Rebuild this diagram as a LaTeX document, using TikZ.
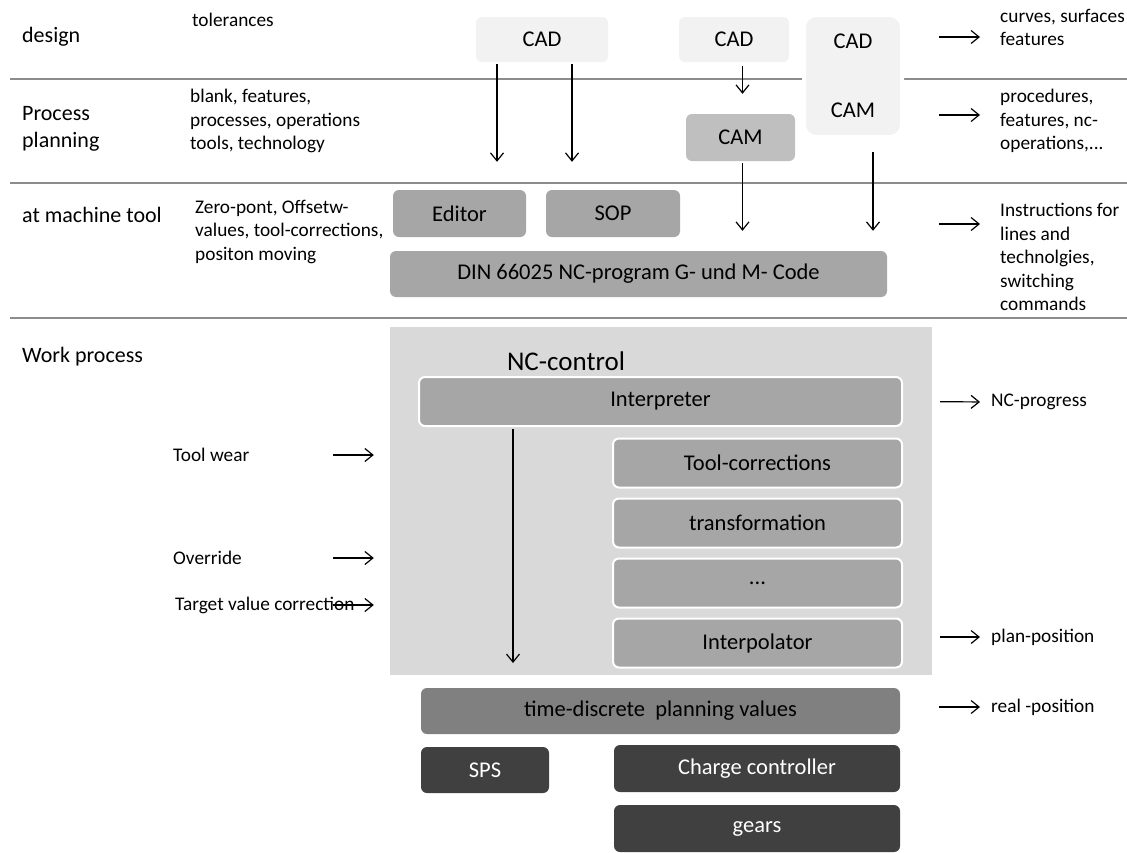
\documentclass[tikz,border=0pt]{standalone}
\usepackage{fontspec}
\setmainfont{Carlito}
\usepackage{xcolor}
\usepackage{tikz}
\usetikzlibrary{arrows.meta,positioning,calc}
\definecolor{cadfill}{HTML}{F2F2F2}
\definecolor{camfill}{HTML}{BFBFBF}
\definecolor{boxfill}{HTML}{A6A6A6}
\definecolor{ncfill}{HTML}{D9D9D9}
\definecolor{tdfill}{HTML}{808080}
\definecolor{darkfill}{HTML}{404040}
\definecolor{rulegray}{HTML}{8C8C8C}
\newcommand{\txtfont}{\fontsize{19.3pt}{23.5pt}\selectfont}
\newcommand{\boxfont}{\fontsize{22.5pt}{26pt}\selectfont}
\newcommand{\secfont}{\fontsize{22pt}{27pt}\selectfont}

\begin{document}
\begin{tikzpicture}[x=1pt, y=-1pt,
  box/.style={rectangle, rounded corners=6pt, align=center, font=\boxfont, inner sep=0pt},
  ncbox/.style={box, fill=boxfill, draw=white, line width=2pt},
  dark/.style={box, fill=darkfill, text=white},
  sec/.style={anchor=west, align=left, font=\secfont, inner sep=0pt},
  lbl/.style={anchor=west, align=left, font=\txtfont, inner sep=0pt},
  arr/.style={-{Straight Barb[length=8pt,width=13pt]}, line width=1.2pt},
  rule/.style={draw=rulegray, line width=1.8pt}
]
\useasboundingbox (0,0) rectangle (1127,852);
\fill[white] (0,0) rectangle (1127,852);

% Rows
\draw[rule] (10,79) -- (1127,79);
\draw[rule] (10,183) -- (1127,183);
\draw[rule] (10,318) -- (1127,318);

\node[sec] (design) at (22,37) {design};
\node[sec] (planning) at (22,129) {Process\\planning};
\node[sec] (machine) at (22,215) {at machine tool};
\node[sec] (work) at (22,357) {Work process};

\node[lbl] (tol) at (192,20) {tolerances};
\node[lbl] (blank) at (190,121) {blank, features,\\processes, operations\\tools, technology};
\node[lbl] (zero) at (195,231.5) {Zero-pont, Offsetw-\\values, tool-corrections,\\positon moving};

% Top: CAD / CAM
\node[box, fill=cadfill, minimum width=132pt, minimum height=45pt] (cadA) at (542,39.5) {CAD};
\node[box, fill=cadfill, minimum width=110pt, minimum height=45pt] (cadB) at (734,39.5) {CAD};
\node[box, fill=cadfill, draw=white, line width=4pt, rounded corners=12pt, minimum width=98pt, minimum height=122pt] (cadcam) at (853,76) {CAD\\[43pt]CAM};
\node[box, fill=camfill, minimum width=109pt, minimum height=47pt] (cam) at (740.5,137.5) {CAM};

% Machine tool
\node[box, fill=boxfill, minimum width=133pt, minimum height=47pt] (editor) at (459.5,213.5) {Editor};
\node[box, fill=boxfill, minimum width=134pt, minimum height=47pt] (sop) at (613,213.5) {SOP};
\node[box, fill=boxfill, minimum width=497pt, minimum height=46pt] (din) at (638.5,274) {DIN 66025 NC-program G- und M- Code};

\draw[arr, shorten <=2pt, shorten >=28pt] ([xshift=-45pt]cadA.south) -- ([xshift=-45pt]cadA.south |- editor.north);
\draw[arr, shorten <=2pt, shorten >=28pt] ([xshift=30pt]cadA.south) -- ([xshift=30pt]cadA.south |- sop.north);
\draw[arr, shorten <=4pt, shorten >=20pt] ([xshift=2pt]cadB.south -| cam.north) -- ([xshift=2pt]cam.north);
\draw[arr, shorten <=2pt, shorten >=20pt] ([xshift=2pt]cam.south) -- ([xshift=2pt]cam.south |- din.north);
\draw[arr, shorten <=13pt, shorten >=20pt] ([xshift=20pt]cadcam.south) -- ([xshift=20pt]cadcam.south |- din.north);

% Right: results
\node[lbl] (out1) at (1000,27.5) {curves, surfaces\\features};
\node[lbl] (out2) at (1000,121) {procedures,\\features, nc-\\operations,...};
\node[lbl] (out3) at (1000,257) {Instructions for\\lines and\\technolgies,\\switching\\commands};
\coordinate (t1) at (939,37);
\coordinate (t2) at (939,115);
\coordinate (t3) at (939,224);
\draw[arr, shorten >=20pt] (t1) -- (t1 -| out1.west);
\draw[arr, shorten >=20pt] (t2) -- (t2 -| out2.west);
\draw[arr, shorten >=20pt] (t3) -- (t3 -| out3.west);

% NC-control
\node[rectangle, fill=ncfill, minimum width=542pt, minimum height=348pt, inner sep=0pt] (nc) at (661,501) {};
\node[font=\fontsize{27pt}{30pt}\selectfont, inner sep=0pt] (nctitle) at (566,361) {NC-control};
\node[ncbox, minimum width=483pt, minimum height=49pt] (interp) at (660.5,401.5) {Interpreter};
\node[ncbox, minimum width=289pt, minimum height=49pt] (toolcorr) at (757.5,463) {Tool-corrections};
\node[ncbox, minimum width=289pt, minimum height=49pt] (transf) at (757.5,523) {transformation};
\node[ncbox, minimum width=289pt, minimum height=49pt] (more) at (757.5,583) {...};
\node[ncbox, minimum width=289pt, minimum height=49pt] (interpol) at (757.5,643) {Interpolator};
\coordinate (ipEnd) at (513,663);
\draw[arr, shorten <=2pt] (interp.south -| ipEnd) -- (ipEnd);

% Inputs
\node[lbl] (wear) at (173,455) {Tool wear};
\node[lbl] (override) at (173,558) {Override};
\node[lbl] (target) at (175,605) {Target value correction};
\coordinate (w1) at (333,455);
\coordinate (w2) at (333,558);
\coordinate (w3) at (333,605);
\draw[arr, shorten >=16pt] (w1) -- (w1 -| nc.west);
\draw[arr, shorten >=16pt] (w2) -- (w2 -| nc.west);
\draw[arr, shorten >=16pt] (w3) -- (w3 -| nc.west);

% Drive side
\node[box, fill=tdfill, minimum width=479pt, minimum height=46pt] (tdpv) at (660.5,711) {time-discrete\ \ planning values};
\node[dark, minimum width=128pt, minimum height=46pt] (sps) at (485,770) {SPS};
\node[dark, minimum width=286pt, minimum height=47pt] (charge) at (757,768.5) {Charge controller};
\node[dark, minimum width=286pt, minimum height=47pt] (gears) at (757,828.5) {gears};

\node[lbl] (ncprog) at (991,402) {NC-progress};
\node[lbl] (planpos) at (991,637) {plan-position};
\node[lbl] (realpos) at (991,707) {real -position};
\draw[arr, shorten <=37pt, shorten >=11pt] (interp.east) -- (ncprog.west);
\draw[arr, shorten <=37pt, shorten >=11pt] (interpol.east |- planpos.west) -- (planpos.west);
\draw[arr, shorten <=39pt, shorten >=11pt] (tdpv.east |- realpos.west) -- (realpos.west);

\end{tikzpicture}
\end{document}
